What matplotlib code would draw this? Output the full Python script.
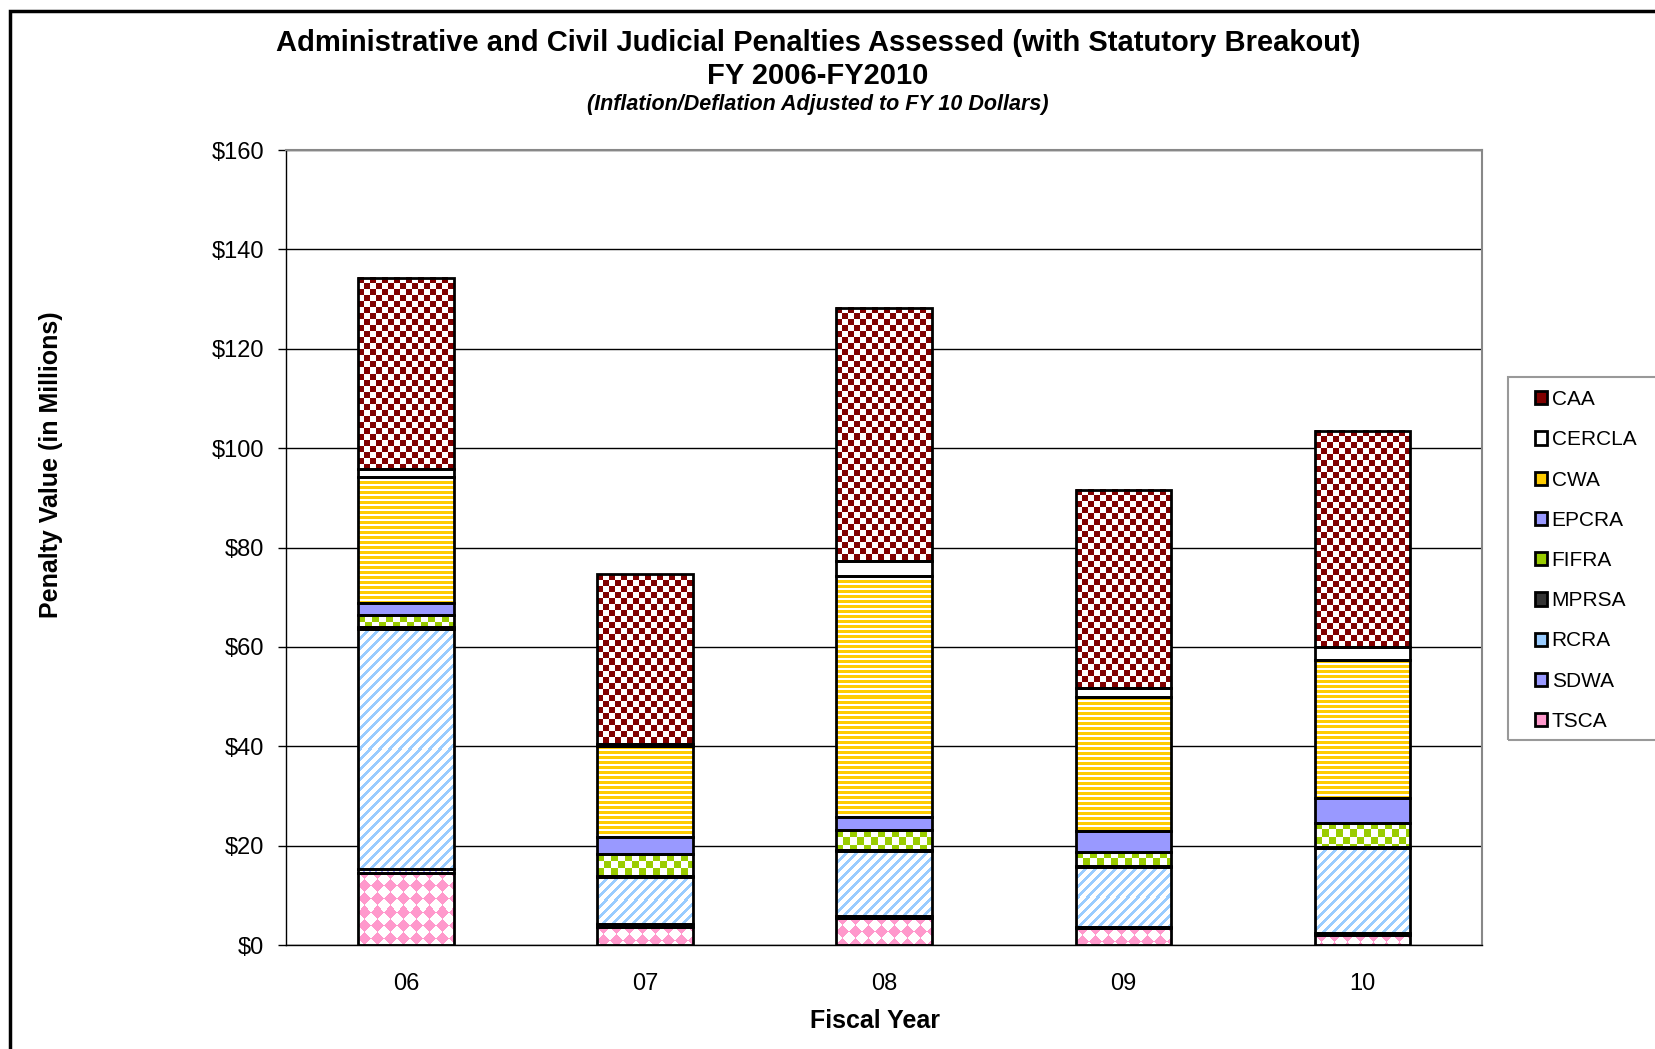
import matplotlib
matplotlib.use("Agg")
import matplotlib.pyplot as plt
from matplotlib.patches import Rectangle
from matplotlib.colors import to_rgb
import numpy as np

plt.rcParams['font.family'] = ['Liberation Sans', 'DejaVu Sans']

years = ["06", "07", "08", "09", "10"]

# stacked bottom -> top, $ millions
tsca = [14.5, 3.6, 5.4, 3.4, 2.0]
sdwa = [0.8, 0.6, 0.5, 0.3, 0.5]
rcra = [48.3, 9.5, 13.0, 12.1, 17.1]
mprsa = [0.4, 0.2, 0.3, 0.1, 0.1]
fifra = [2.4, 4.4, 3.9, 2.9, 4.9]
epcra = [2.4, 3.4, 2.6, 4.2, 5.1]
cwa = [25.5, 18.3, 48.5, 26.9, 27.6]
cercla = [1.5, 0.5, 3.1, 1.8, 2.7]
caa = [38.5, 34.1, 51.0, 39.9, 43.5]

# name, values, colour, fill pattern
series = [
    ("TSCA", tsca, "#FF99CC", "diamond"),
    ("SDWA", sdwa, "#9999FF", "back"),
    ("RCRA", rcra, "#99CCFF", "diag"),
    ("MPRSA", mprsa, "#333333", "solid"),
    ("FIFRA", fifra, "#99CC00", "checker7"),
    ("EPCRA", epcra, "#9999FF", "solid"),
    ("CWA", cwa, "#FFCC00", "hstripe"),
    ("CERCLA", cercla, "#FFFFFF", "solid"),
    ("CAA", caa, "#800000", "checker6"),
]


def pattern_image(kind, color, w, h):
    """pixel-sized RGBA image with the Excel-like fill pattern"""
    i, j = np.mgrid[0:h, 0:w]
    if kind == "checker6":
        mask = ((i // 6) + (j // 6)) % 2 == 0
    elif kind == "checker7":
        mask = ((i // 7) + (j // 7)) % 2 == 0
    elif kind == "diamond":
        c = 13
        mask = ((i + j) // c + (i - j + 1000) // c) % 2 == 0
    elif kind == "hstripe":
        mask = (i % 5) < 3
    elif kind == "diag":
        mask = ((i + j) % 10) < 4
    elif kind == "back":
        mask = ((i - j + 1000) % 6) < 2
    else:
        mask = np.ones((h, w), dtype=bool)
    img = np.ones((h, w, 4))
    img[mask, :3] = to_rgb(color)
    return img


fig = plt.figure(figsize=(16.56, 10.49), dpi=100)
ax = fig.add_axes([0.173, 0.099, 0.722, 0.758])
ax.set_xlim(-0.5, 4.5)
ax.set_ylim(0, 160)

x = np.arange(len(years))
width = 0.4
bottom = np.zeros(len(years))
handles = []
for name, vals, color, kind in series:
    vals = np.array(vals)
    if kind == "solid":
        ax.bar(x, vals, width, bottom=bottom, color=color, linewidth=0, zorder=3)
    else:
        bars = ax.bar(x, vals, width, bottom=bottom, color="white", linewidth=0, zorder=3)
        for r in bars:
            x0, y0 = r.get_x(), r.get_y()
            x1, y1 = x0 + r.get_width(), y0 + r.get_height()
            p0 = ax.transData.transform((x0, y0))
            p1 = ax.transData.transform((x1, y1))
            w = int(round(p1[0] - p0[0]))
            h = int(round(p1[1] - p0[1]))
            if w < 1 or h < 1:
                continue
            ax.imshow(pattern_image(kind, color, w, h), extent=(x0, x1, y0, y1),
                      aspect="auto", interpolation="nearest", origin="upper", zorder=3.5)
    ax.bar(x, vals, width, bottom=bottom, facecolor="none",
           edgecolor="black", linewidth=2, zorder=4)
    handles.append(Rectangle((0, 0), 1, 1, facecolor=color, edgecolor="black",
                             linewidth=2, label=name))
    bottom += vals

ax.set_yticks(range(0, 161, 20))
ax.set_yticklabels([f"${v}" for v in range(0, 161, 20)], fontsize=17)
ax.set_xticks(x)
ax.set_xticklabels(years, fontsize=17)
ax.tick_params(axis="x", length=0, pad=20)
ax.tick_params(axis="y", length=6, width=1, direction="out", pad=10)
ax.grid(axis="y", color="black", linewidth=1, zorder=0)
ax.set_axisbelow(True)
for side in ["top", "right"]:
    ax.spines[side].set_color("#888888")
    ax.spines[side].set_linewidth(1.5)
for side in ["left", "bottom"]:
    ax.spines[side].set_color("black")
    ax.spines[side].set_linewidth(1)

fig.text(875 / 1656, 1 - 1021 / 1049, "Fiscal Year", fontsize=18, fontweight="bold",
         ha="center", va="center")
fig.text(0.031, 0.557, "Penalty Value (in Millions)", rotation=90, fontsize=18,
         fontweight="bold", ha="center", va="center")

fig.text(0.494, 0.959, "Administrative and Civil Judicial Penalties Assessed (with Statutory Breakout)",
         fontsize=21, fontweight="bold", ha="center", va="center")
fig.text(0.494, 0.928, "FY 2006-FY2010", fontsize=21, fontweight="bold",
         ha="center", va="center")
fig.text(0.494, 0.900, "(Inflation/Deflation Adjusted to FY 10 Dollars)", fontsize=15.5,
         fontweight="bold", style="italic", ha="center", va="center")

# legend box drawn separately so it runs off the right edge like the original
fig.patches.append(Rectangle((1508 / 1656, 1 - 740 / 1049), 0.2, 363 / 1049,
                             transform=fig.transFigure, fill=False,
                             edgecolor="#999999", linewidth=1.5))
fig.legend(handles=handles[::-1], loc="upper left", bbox_to_anchor=(1535 / 1656, 1 - 390 / 1049),
           fontsize=15, frameon=False, borderaxespad=0, borderpad=0,
           handlelength=0.6, handleheight=0.6, handletextpad=0.2,
           labelspacing=1.02)

# outer chart border
fig.patches.append(Rectangle((10 / 1656, -0.1), 1.2, 1 - 11 / 1049 + 0.1,
                             transform=fig.transFigure, fill=False,
                             edgecolor="black", linewidth=2.5))

fig.savefig("out.png", dpi=100)
